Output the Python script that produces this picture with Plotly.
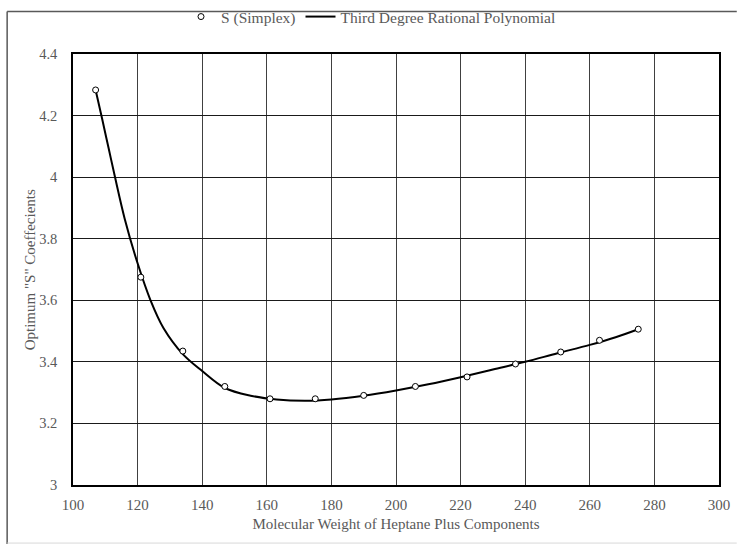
import plotly.graph_objects as go

# Data points: S (Simplex)
mw_points = [107, 121, 134, 147, 161, 175, 190, 206, 222, 237, 251, 263, 275]
s_points = [4.283, 3.675, 3.435, 3.32, 3.28, 3.28, 3.291, 3.32, 3.351, 3.393, 3.432, 3.47, 3.506]

# Fitted curve: Third Degree Rational Polynomial
mw_curve = [107, 109, 111, 113, 116, 120, 124, 128, 134, 140, 147, 155, 163, 172, 180,
            190, 200, 210, 220, 230, 240, 250, 260, 268, 275]
s_curve = [4.283, 4.19, 4.095, 4.0, 3.865, 3.72, 3.60, 3.51, 3.425, 3.37, 3.315, 3.29, 3.278,
           3.274, 3.278, 3.29, 3.307, 3.327, 3.35, 3.375, 3.40, 3.428, 3.455, 3.48, 3.506]

x_ticks = [100, 120, 140, 160, 180, 200, 220, 240, 260, 280, 300]
y_ticks = [3, 3.2, 3.4, 3.6, 3.8, 4, 4.2, 4.4]

font_family = "Liberation Serif"
text_color = "#595959"

fig = go.Figure()
fig.add_trace(go.Scatter(
    x=mw_curve, y=s_curve, mode="lines", name="Third Degree Rational Polynomial",
    line=dict(color="black", width=2, shape="spline", smoothing=1.0),
))
fig.add_trace(go.Scatter(
    x=mw_points, y=s_points, mode="markers", name="S (Simplex)",
    marker=dict(symbol="circle", size=6, color="white",
                line=dict(color="black", width=1)),
))

W, H = 742, 546
L, R, T, B = 72.7, 15, 47, 61
pw, ph = W - L - R, H - T - B

def px_to_paper_x(px):
    return (px - L) / pw

def px_to_paper_y(py):
    return (H - B - py) / ph

fig.update_layout(
    width=W, height=H,
    margin=dict(l=L, r=R, t=T, b=B),
    paper_bgcolor="white", plot_bgcolor="white",
    font=dict(family=font_family, size=15, color=text_color),
    showlegend=True,
    legend=dict(orientation="h", xref="container", yref="container",
                x=0.5, xanchor="center", y=1 - 17 / H, yanchor="middle",
                bgcolor="rgba(0,0,0,0)",
                font=dict(family=font_family, size=15.5, color=text_color),
                traceorder="reversed", itemwidth=30),
    xaxis=dict(range=[100, 300], tickvals=x_ticks, showgrid=True,
               gridcolor="#404040", gridwidth=1, zeroline=False,
               showline=True, linecolor="black", linewidth=1.5, mirror=True,
               ticks="", ticklabelstandoff=5,
               tickfont=dict(family=font_family, size=15, color=text_color),
               title=dict(text="Molecular Weight of Heptane Plus Components",
                          font=dict(family=font_family, size=15, color=text_color),
                          standoff=7)),
    yaxis=dict(range=[3, 4.4], tickvals=y_ticks, showgrid=True,
               gridcolor="#1a1a1a", gridwidth=1, zeroline=False,
               showline=True, linecolor="black", linewidth=1.5, mirror=True,
               ticks="", ticklabelstandoff=11,
               tickfont=dict(family=font_family, size=14.5, color=text_color)),
    annotations=[
        dict(text='Optimum "S" Coeffecients', textangle=-90, showarrow=False,
             xref="paper", yref="paper", x=px_to_paper_x(30), y=0.5,
             xanchor="center", yanchor="middle",
             font=dict(family=font_family, size=15, color=text_color)),
    ],
    shapes=[
        dict(type="line", xref="paper", yref="paper",
             x0=px_to_paper_x(6), x1=px_to_paper_x(6),
             y0=px_to_paper_y(4), y1=px_to_paper_y(545),
             line=dict(color="#595959", width=1.5)),
        dict(type="line", xref="paper", yref="paper",
             x0=px_to_paper_x(6), x1=px_to_paper_x(745),
             y0=px_to_paper_y(4), y1=px_to_paper_y(4),
             line=dict(color="#595959", width=1.5)),
        dict(type="line", xref="paper", yref="paper",
             x0=px_to_paper_x(6), x1=px_to_paper_x(745),
             y0=px_to_paper_y(544), y1=px_to_paper_y(544),
             line=dict(color="#d9d9d9", width=1)),
    ],
)

fig.write_html("out.html")
